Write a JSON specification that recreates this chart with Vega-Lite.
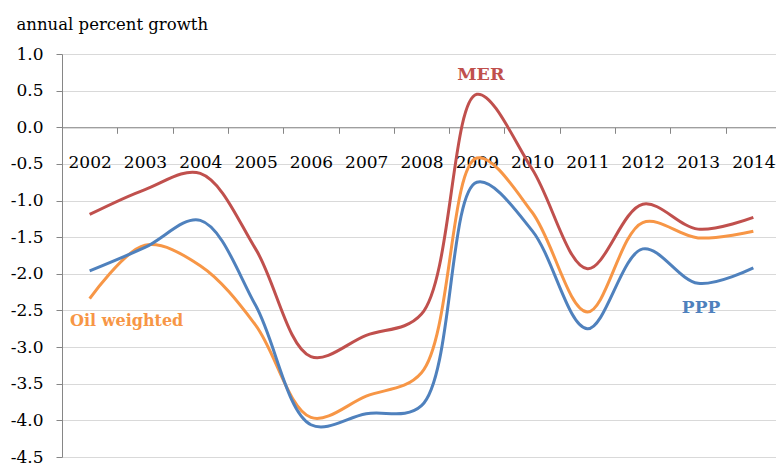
{
  "$schema": "https://vega.github.io/schema/vega-lite/v6.json",
  "width": 714,
  "height": 403,
  "autosize": {"type": "none"},
  "padding": {"left": 62, "top": 54, "right": 0, "bottom": 9},
  "background": "white",
  "config": {"font": "DejaVu Serif", "view": {"stroke": null}},
  "datasets": {
    "series": [
      {"series": "MER", "year": 2002, "value": -1.19},
      {"series": "MER", "year": 2003, "value": -0.85},
      {"series": "MER", "year": 2004, "value": -0.63},
      {"series": "MER", "year": 2005, "value": -1.66},
      {"series": "MER", "year": 2006, "value": -3.13},
      {"series": "MER", "year": 2007, "value": -2.84},
      {"series": "MER", "year": 2008, "value": -2.55},
      {"series": "MER", "year": 2009, "value": 0.45},
      {"series": "MER", "year": 2010, "value": -0.57},
      {"series": "MER", "year": 2011, "value": -1.93},
      {"series": "MER", "year": 2012, "value": -1.05},
      {"series": "MER", "year": 2013, "value": -1.39},
      {"series": "MER", "year": 2014, "value": -1.23},
      {"series": "Oil weighted", "year": 2002, "value": -2.34},
      {"series": "Oil weighted", "year": 2003, "value": -1.61},
      {"series": "Oil weighted", "year": 2004, "value": -1.89},
      {"series": "Oil weighted", "year": 2005, "value": -2.7},
      {"series": "Oil weighted", "year": 2006, "value": -3.96},
      {"series": "Oil weighted", "year": 2007, "value": -3.67},
      {"series": "Oil weighted", "year": 2008, "value": -3.35},
      {"series": "Oil weighted", "year": 2009, "value": -0.42},
      {"series": "Oil weighted", "year": 2010, "value": -1.16},
      {"series": "Oil weighted", "year": 2011, "value": -2.52},
      {"series": "Oil weighted", "year": 2012, "value": -1.3},
      {"series": "Oil weighted", "year": 2013, "value": -1.51},
      {"series": "Oil weighted", "year": 2014, "value": -1.42},
      {"series": "PPP", "year": 2002, "value": -1.96},
      {"series": "PPP", "year": 2003, "value": -1.64},
      {"series": "PPP", "year": 2004, "value": -1.27},
      {"series": "PPP", "year": 2005, "value": -2.43},
      {"series": "PPP", "year": 2006, "value": -4.06},
      {"series": "PPP", "year": 2007, "value": -3.91},
      {"series": "PPP", "year": 2008, "value": -3.8},
      {"series": "PPP", "year": 2009, "value": -0.75},
      {"series": "PPP", "year": 2010, "value": -1.41},
      {"series": "PPP", "year": 2011, "value": -2.75},
      {"series": "PPP", "year": 2012, "value": -1.66},
      {"series": "PPP", "year": 2013, "value": -2.13},
      {"series": "PPP", "year": 2014, "value": -1.92}
    ],
    "mer_label": [{"series": "MER", "year": 2009, "value": 0.71}],
    "oil_label": [{"series": "Oil weighted", "year": 2002, "value": -2.64}],
    "ppp_label": [{"series": "PPP", "year": 2013, "value": -2.47}]
  },
  "encoding": {
    "x": {
      "field": "year",
      "type": "ordinal",
      "scale": {"range": [0, 719], "paddingInner": 0, "paddingOuter": 0},
      "axis": {
        "orient": "bottom",
        "offset": -329.7,
        "title": null,
        "labelAngle": 0,
        "tickBand": "extent",
        "tickSize": 6,
        "tickColor": "#868686",
        "domainColor": "#868686",
        "labelFont": "DejaVu Serif",
        "labelFontSize": 17,
        "labelPadding": 21,
        "labelColor": "#000000",
        "grid": false
      }
    },
    "y": {
      "field": "value",
      "type": "quantitative",
      "scale": {"domain": [-4.5, 1], "nice": false, "zero": false},
      "axis": {
        "values": [-4.5, -4, -3.5, -3, -2.5, -2, -1.5, -1, -0.5, 0, 0.5, 1],
        "labelExpr": "replace(format(datum.value, '.1f'), '\u2212', '-')",
        "labelFont": "DejaVu Serif",
        "labelFontSize": 17,
        "labelColor": "#000000",
        "labelPadding": 13,
        "tickSize": 6,
        "tickColor": "#868686",
        "domainColor": "#868686",
        "grid": true,
        "gridColor": "#D9D9D9",
        "title": "annual percent growth",
        "titleAngle": 0,
        "titleX": -46,
        "titleY": -25,
        "titleAlign": "left",
        "titleBaseline": "alphabetic",
        "titleFont": "DejaVu Serif",
        "titleFontSize": 16.5,
        "titleFontWeight": "normal",
        "titleColor": "#000000"
      }
    },
    "color": {
      "field": "series",
      "type": "nominal",
      "scale": {"domain": ["MER", "Oil weighted", "PPP"], "range": ["#C0504D", "#F79646", "#4F81BD"]},
      "legend": null
    }
  },
  "layer": [
    {
      "data": {"name": "series"},
      "mark": {"type": "line", "interpolate": "catmull-rom", "strokeWidth": 3}
    },
    {
      "data": {"name": "mer_label"},
      "mark": {"type": "text", "font": "DejaVu Serif", "fontWeight": "bold", "fontSize": 17.5, "dx": 4, "baseline": "middle", "align": "center"},
      "encoding": {"text": {"field": "series"}}
    },
    {
      "data": {"name": "oil_label"},
      "mark": {"type": "text", "font": "DejaVu Serif", "fontWeight": "bold", "fontSize": 16, "dx": 37, "baseline": "middle", "align": "center"},
      "encoding": {"text": {"field": "series"}}
    },
    {
      "data": {"name": "ppp_label"},
      "mark": {"type": "text", "font": "DejaVu Serif", "fontWeight": "bold", "fontSize": 17, "dx": 3, "baseline": "middle", "align": "center"},
      "encoding": {"text": {"field": "series"}}
    }
  ]
}
